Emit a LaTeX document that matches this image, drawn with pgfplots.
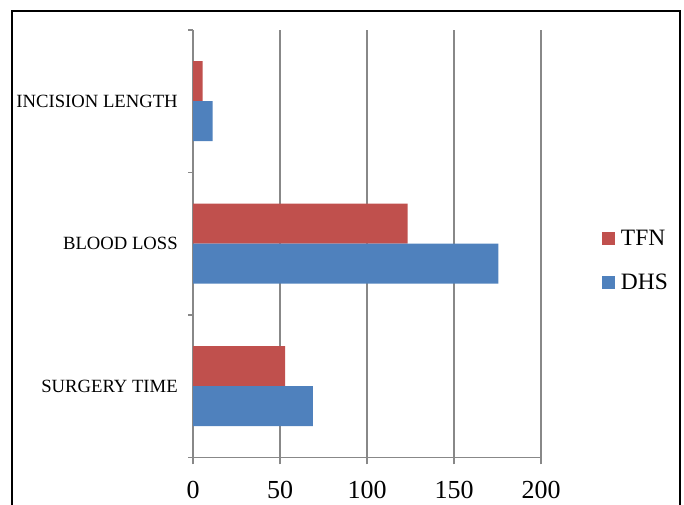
\documentclass[border=0pt]{standalone}
\usepackage{fontspec}
\setmainfont{Liberation Serif}
\usepackage{pgfplots}
\pgfplotsset{compat=1.18}
\definecolor{tfnred}{HTML}{C0504D}
\definecolor{dhsblue}{HTML}{4F81BD}
\definecolor{gridgray}{HTML}{888888}

\begin{document}
\begin{tikzpicture}
\useasboundingbox (0,0) rectangle (513pt,378pt);
% outer frame (open at the bottom edge of the page)
\draw[line width=1.5pt] (9.2pt,-20pt) -- (9.2pt,369.6pt) -- (510.2pt,369.6pt) -- (510.2pt,-20pt);
\begin{axis}[
  at={(144.75pt,34.9pt)}, anchor=south west,
  scale only axis, width=261pt, height=320.6pt,
  xbar, bar width=30pt,
  xmin=0, xmax=200, ymin=-0.5, ymax=2.5,
  axis x line=bottom, axis y line=left,
  axis line style={draw=gridgray, line width=0.9pt, -},
  xtick={0,50,...,200},
  ytick={0,1,2},
  yticklabels={SURGERY TIME, BLOOD LOSS, INCISION LENGTH},
  minor ytick={-0.5,0.5,1.5,2.5},
  tick align=outside,
  major tick length=5.25pt, minor tick length=3.75pt,
  tick style={gridgray, line width=0.9pt},
  major y tick style={draw=none},
  xmajorgrids, grid style={gridgray, line width=0.9pt},
  /pgf/number format/assume math mode=true,
  xticklabel style={font=\fontsize{19.5}{20}\selectfont, inner sep=0pt, anchor=north, yshift=-12.5pt},
  yticklabel style={font=\fontsize{14}{14}\selectfont, inner sep=0pt, anchor=east, xshift=-6pt},
  legend style={at={(1.1744,0.4608)}, anchor=west, draw=none, fill=none, inner sep=0pt,
    nodes={inner sep=0pt},
    font=\fontsize{17.6}{18}\selectfont, row sep=20pt,
    /tikz/every odd column/.append style={column sep=4.5pt}},
  legend cell align=left,
  legend image code/.code={\fill[#1,draw=none] (0pt,-4.875pt) rectangle (9.75pt,4.875pt);},
]
\addplot[fill=tfnred, draw=none, bar shift=15pt] coordinates {(52.9,0) (123.4,1) (5.6,2)};
\addplot[fill=dhsblue, draw=none, bar shift=-15pt] coordinates {(68.9,0) (175.5,1) (11.3,2)};
\legend{TFN, DHS}
\end{axis}
\end{tikzpicture}
\end{document}
